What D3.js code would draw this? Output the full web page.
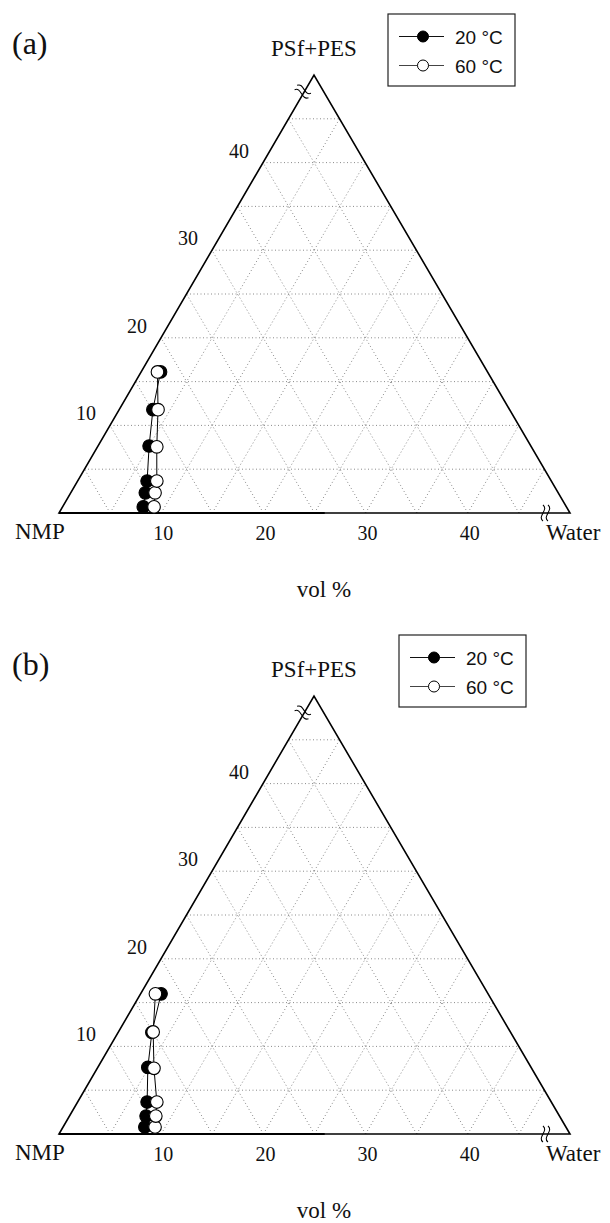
<!DOCTYPE html>
<html>
<head>
	<meta charset="utf-8">
	<title>Ternary cloud point diagrams</title>
	<script type="text/javascript" src="https://cdn.jsdelivr.net/npm/d3@7"></script>
	<style type="text/css">
		body { margin: 0; background: #fff; }
		.serif { font-family: "Liberation Serif", "DejaVu Serif", serif; fill: #111; }
		.sans { font-family: "Liberation Sans", Arial, sans-serif; fill: #111; }
	</style>
</head>
<body>
	<div id="chart"></div>

	<script type="text/javascript">
		// tick labels on the two visible axes (vol %)
		var waterTicks = [10, 20, 30, 40];
		var polymerTicks = [10, 20, 30, 40];
		var gridSteps = [5, 10, 15, 20, 25, 30, 35, 40, 45];
		var seriesNames = ["20 \u00B0C", "60 \u00B0C"];

		// panel (a): cloud points, water and polymer vol %
		var waterA20 = [7.9, 7.3, 6.8, 5.0, 3.3, 1.9];
		var polyA20 = [0.7, 2.3, 3.65, 7.65, 11.8, 16.1];
		var waterA60 = [8.95, 8.25, 7.75, 5.8, 3.8, 1.6];
		var polyA60 = [0.7, 2.3, 3.65, 7.55, 11.8, 16.1];

		// panel (b)
		var waterB20 = [8.0, 7.5, 6.8, 4.9, 3.3, 2.0];
		var polyB20 = [0.8, 2.05, 3.65, 7.6, 11.6, 16.0];
		var waterB60 = [9.0, 8.45, 7.75, 5.55, 3.4, 1.45];
		var polyB60 = [0.8, 2.05, 3.65, 7.5, 11.65, 16.0];

		var w = 610, h = 1223;
		var svg = d3.select("#chart").append("svg")
			.attr("width", w).attr("height", h);
		svg.append("rect").attr("width", w).attr("height", h).attr("fill", "#fff");

		// triangle corners (NMP, Water, PSf+PES) inside a panel
		var L = {x: 59, y: 513}, R = {x: 570, y: 513}, T = {x: 314, y: 75};
		var maxVal = 50;

		var wScale = d3.scaleLinear().domain([0, maxVal]).range([0, R.x - L.x]);
		var pxScale = d3.scaleLinear().domain([0, maxVal]).range([0, T.x - L.x]);
		var pyScale = d3.scaleLinear().domain([0, maxVal]).range([L.y, T.y]);

		function px(wat, pol) { return L.x + wScale(wat) + pxScale(pol); }
		function py(wat, pol) { return pyScale(pol); }

		function drawPanel(dy, letter, legendX, w20, p20, w60, p60) {
			var g = svg.append("g").attr("transform", "translate(0," + dy + ")");

			// dotted grid
			var grid = g.append("g")
				.attr("stroke", "#8a8a8a")
				.attr("stroke-width", 1)
				.attr("stroke-dasharray", "1,2.5")
				.attr("fill", "none");
			gridSteps.forEach(function(k) {
				grid.append("line") // constant polymer
					.attr("x1", px(0, k)).attr("y1", py(0, k))
					.attr("x2", px(maxVal - k, k)).attr("y2", py(maxVal - k, k));
				grid.append("line") // constant water
					.attr("x1", px(k, 0)).attr("y1", py(k, 0))
					.attr("x2", px(k, maxVal - k)).attr("y2", py(k, maxVal - k));
				grid.append("line") // constant NMP
					.attr("x1", px(k, 0)).attr("y1", py(k, 0))
					.attr("x2", px(0, k)).attr("y2", py(0, k));
			});

			// triangle outline
			g.append("path")
				.attr("d", "M" + px(0, 0) + "," + py(0, 0) +
					"L" + px(maxVal, 0) + "," + py(maxVal, 0) +
					"L" + px(0, maxVal) + "," + py(0, maxVal) + "Z")
				.attr("fill", "none")
				.attr("stroke", "#000")
				.attr("stroke-width", 1.6)
				.attr("stroke-linejoin", "miter");
			g.append("line")
				.attr("x1", px(0, 0)).attr("y1", py(0, 0))
				.attr("x2", px(26, 0)).attr("y2", py(26, 0))
				.attr("stroke", "#000").attr("stroke-width", 2.2);

			// axis break marks
			function breakMark(cx, cy, angle) {
				var m = g.append("g")
					.attr("transform", "translate(" + cx + "," + cy + ") rotate(" + angle + ")");
				[-2.5, 2.5].forEach(function(off) {
					m.append("path")
						.attr("d", "M-8," + off + " C-3.5," + (off - 6) + " 3.5," + (off + 6) + " 8," + off)
						.attr("fill", "none")
						.attr("stroke", "#000")
						.attr("stroke-width", 1.1);
				});
			}
			breakMark(px(47.6, 0), py(47.6, 0), 90);
			breakMark(px(0, 48) - 1, py(0, 48) - 1, 30);

			// tick labels
			g.selectAll(".wt").data(waterTicks).enter().append("text")
				.attr("class", "serif")
				.attr("x", function(d) { return px(d, 0) + 2; })
				.attr("y", py(0, 0) + 27)
				.attr("text-anchor", "middle")
				.attr("font-size", 20)
				.text(function(d) { return d; });
			g.selectAll(".pt").data(polymerTicks).enter().append("text")
				.attr("class", "serif")
				.attr("x", function(d) { return px(0, d) - 14; })
				.attr("y", function(d) { return py(0, d) - 5; })
				.attr("text-anchor", "end")
				.attr("font-size", 20)
				.text(function(d) { return d; });

			// corner and axis names
			g.append("text").attr("class", "serif")
				.attr("x", 15).attr("y", py(0, 0) + 26)
				.attr("font-size", 23).text("NMP");
			g.append("text").attr("class", "serif")
				.attr("x", 546).attr("y", py(0, 0) + 27)
				.attr("font-size", 23).text("Water");
			g.append("text").attr("class", "serif")
				.attr("x", T.x).attr("y", 56)
				.attr("text-anchor", "middle")
				.attr("font-size", 23).text("PSf+PES");
			g.append("text").attr("class", "serif")
				.attr("x", 324).attr("y", 597)
				.attr("text-anchor", "middle")
				.attr("font-size", 23).text("vol %");
			g.append("text").attr("class", "serif")
				.attr("x", 12).attr("y", 54)
				.attr("font-size", 32).text("(" + letter + ")");

			// data: 20 C black, 60 C white on top
			var series = [
				{water: w20, poly: p20, fill: "#000"},
				{water: w60, poly: p60, fill: "#fff"}
			];
			var line = d3.line()
				.x(function(d) { return d[0]; })
				.y(function(d) { return d[1]; });
			series.forEach(function(s) {
				var pts = s.water.map(function(v, i) { return [px(v, s.poly[i]), py(v, s.poly[i])]; });
				g.append("path")
					.attr("d", line(pts))
					.attr("fill", "none")
					.attr("stroke", "#000")
					.attr("stroke-width", 1);
				g.selectAll(null).data(pts).enter().append("circle")
					.attr("cx", function(d) { return d[0]; })
					.attr("cy", function(d) { return d[1]; })
					.attr("r", 6.3)
					.attr("fill", s.fill)
					.attr("stroke", "#000")
					.attr("stroke-width", 1.1);
			});

			// legend
			var lg = g.append("g").attr("transform", "translate(" + legendX + ",14)");
			lg.append("rect")
				.attr("width", 127).attr("height", 72)
				.attr("fill", "#fff")
				.attr("stroke", "#222")
				.attr("stroke-width", 1.2);
			seriesNames.forEach(function(name, i) {
				var yy = 22.5 + i * 29;
				lg.append("line")
					.attr("x1", 11).attr("x2", 56)
					.attr("y1", yy).attr("y2", yy)
					.attr("stroke", i == 0 ? "#111" : "#444")
					.attr("stroke-width", 1);
				lg.append("circle")
					.attr("cx", 35).attr("cy", yy).attr("r", 5.5)
					.attr("fill", series[i].fill)
					.attr("stroke", "#000").attr("stroke-width", 1);
				lg.append("text").attr("class", "sans")
					.attr("x", 67).attr("y", yy + 7)
					.attr("font-size", 19)
					.text(name);
			});
		}

		drawPanel(0, "a", 388, waterA20, polyA20, waterA60, polyA60);
		drawPanel(621, "b", 399, waterB20, polyB20, waterB60, polyB60);
	</script>
</body>
</html>
